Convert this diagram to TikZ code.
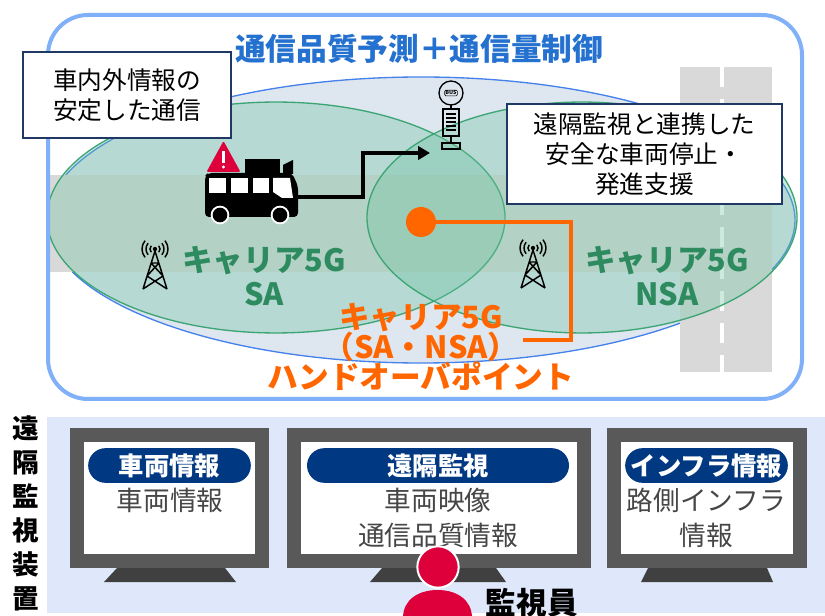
\documentclass[tikz,border=0pt]{standalone}
\usepackage{fontspec}
\setmainfont{Noto Sans CJK JP}
\usetikzlibrary{arrows.meta}

\definecolor{frameblue}{RGB}{128,176,248}
\definecolor{titleblue}{RGB}{36,113,207}
\definecolor{covfill}{RGB}{222,230,240}
\definecolor{covline}{RGB}{70,130,235}
\definecolor{roadgray}{RGB}{217,217,217}
\definecolor{cellline}{RGB}{60,165,115}
\definecolor{cellfill}{RGB}{110,195,160}
\definecolor{cellgreen}{RGB}{46,139,96}
\definecolor{hoorange}{RGB}{255,102,0}
\definecolor{boxnavy}{RGB}{31,56,100}
\definecolor{panelblue}{RGB}{223,232,251}
\definecolor{monframe}{RGB}{89,89,89}
\definecolor{monstand}{RGB}{64,64,64}
\definecolor{pillnavy}{RGB}{0,56,130}
\definecolor{bodygray}{RGB}{70,70,70}
\definecolor{alertred}{RGB}{222,0,58}

\tikzset{
  infobox/.style={draw=boxnavy, line width=1.8pt, fill=white, inner sep=0pt,
    align=center, font=\fontsize{18.5}{22.5}\selectfont},
  celltext/.style={text=cellgreen, align=center, font=\bfseries\fontsize{23}{26}\selectfont},
  hotext/.style={text=hoorange, align=center, font=\bfseries\fontsize{23}{22.5}\selectfont},
  pill/.style={fill=pillnavy, rounded corners=13pt, minimum height=26pt, inner sep=0pt,
    text=white, font=\bfseries\fontsize{19}{22}\selectfont},
  montext/.style={text=bodygray, align=center, font=\fontsize{20}{26.25}\selectfont},
  screen/.style={fill=white},
  tower/.pic={
    \draw[line width=1.1pt, line join=round]
      (-12,38) -- (0,0) -- (12,38)
      (-4,12) -- (4,12)
      (-4,12) -- (8,25) (4,12) -- (-8,25)
      (-8,25) -- (12,38) (8,25) -- (-12,38);
    \fill (0,-2) circle (1.6pt);
    \foreach \r in {5,9,13} {
      \draw[line width=1.1pt] (0,-2) ++(-40:\r*0.75pt) arc (-40:40:\r*0.75pt);
      \draw[line width=1.1pt] (0,-2) ++(140:\r*0.75pt) arc (140:220:\r*0.75pt);
    }
  }
}

\begin{document}
\begin{tikzpicture}[x=0.75pt, y=-0.75pt]
\useasboundingbox (0,0) rectangle (825,616);

% service area frame
\fill[white] (0,0) rectangle (825,616);
\fill[white, rounded corners=30pt] (48,15) rectangle (802,399);

\begin{scope}
  \clip[rounded corners=30pt] (48,15) rectangle (802,399);
  % overall coverage
  \filldraw[fill=covfill, draw=covline, line width=1pt]
    (421,220) ellipse [x radius=280.5pt, y radius=107.25pt];
  % roads
  \fill[roadgray] (48,175) rectangle (772,272);
  \fill[roadgray] (680,67) rectangle (772,372);
  \draw[white, line width=3pt, dash pattern=on 15pt off 9pt] (722,67) -- (722,372);
  % carrier cells
  \filldraw[fill=cellfill, fill opacity=0.35, draw=cellline, line width=1pt]
    (276,217.5) ellipse [x radius=171.75pt, y radius=86.6pt];
  \filldraw[fill=cellfill, fill opacity=0.35, draw=cellline, line width=1pt]
    (582,217.5) ellipse [x radius=161.25pt, y radius=86.6pt];
\end{scope}
\draw[frameblue, line width=3pt, rounded corners=30pt] (48,15) rectangle (802,399);

\node[text=titleblue, font=\bfseries\fontsize{23}{26}\selectfont] (title) at (419,49)
  {通信品質予測＋通信量制御};

% base stations
\pic at (155,251) {tower};
\pic at (533,250) {tower};

\node[celltext] (saText) at (264,276) {キャリア5G\\SA};
\node[celltext] (nsaText) at (667,276) {キャリア5G\\NSA};

% bus
\fill[black, rounded corners=3pt] (205,176) -- (205,217) -- (298,217) -- (298,186) -- (292,173) -- (208,173) -- cycle;
\fill[black] (245,159) rectangle (280,174);
\fill[black] (283,165) -- (293,160) -- (293,174) -- (283,174) -- cycle;
\fill[white] (209,178) rectangle (226,193);
\fill[white] (231,178) rectangle (248,193);
\fill[white] (253,178) rectangle (269,193);
\fill[white] (273,178) -- (290,178) -- (293,198) -- (282,198) -- (273,192) -- cycle;
\foreach \wx in {220,280} {
  \fill[white] (\wx,215) circle (7pt);
  \fill[black] (\wx,215) circle (5.5pt);
}
\fill[alertred, rounded corners=1pt] (223.5,141) -- (240.5,172) -- (206.5,172) -- cycle;
\fill[white] (222.3,151) rectangle (224.7,163);
\fill[white] (223.5,167) circle (1.2pt);
\coordinate (bus) at (298,197);

% bus stop
\draw[line width=1pt] (451,93) circle (9pt);
\node[font=\bfseries\fontsize{4}{4}\selectfont, inner sep=0.6pt, draw, rounded corners=1pt] (busSign) at (451,93) {BUS};
\draw[line width=1pt] (451,105) -- (451,109) (451,136) -- (451,143);
\draw[line width=1pt] (443,109) rectangle (459,136);
\foreach \ly in {114,118,122,126,130} \draw[line width=1pt] (446,\ly) -- (456,\ly);
\draw[line width=1pt] (442,143) rectangle (460,149);
\coordinate (stop) at (430,153);

\draw[line width=2.3pt, -{Triangle[length=9pt,width=10pt]}] (bus) -- (363,197) |- (stop);

% handover point
\node[circle, fill=hoorange, minimum size=22.5pt, inner sep=0pt] (ho) at (421,222) {};
\coordinate (hoEnd) at (523,340);
\draw[hoorange, line width=3pt] (ho.center) -| (571,340) -- (hoEnd);
\node[hotext] (hoText) at (421,347) {キャリア5G\\（SA・NSA）\\ハンドオーバポイント};

% callouts
\node[infobox, minimum width=156pt, minimum height=64.5pt] (callA) at (127,95)
  {車内外情報の\\安定した通信};
\node[infobox, minimum width=206pt, minimum height=75pt] (callB) at (644.5,154)
  {遠隔監視と連携した\\安全な車両停止・\\発進支援};

% remote monitoring panel
\fill[panelblue] (47,417) rectangle (825,613);
\node[align=center, font=\bfseries\fontsize{20}{25.5}\selectfont] (panelLabel) at (26,513)
  {遠\\隔\\監\\視\\装\\置};

% monitors
\foreach \xa/\xb/\sa/\sb/\ba/\bb in {70/269/117/225/104/236, 287/591/382/496/370/506, 607/807/648/767/641/773} {
  \fill[monstand] (\sa,568) -- (\sb,568) -- (\bb,582) -- (\ba,582) -- cycle;
  \fill[monframe] (\xa,428) rectangle (\xb,568);
  \fill[screen] (\xa+14,442) rectangle (\xb-14,554);
}
\node[pill, minimum width=122pt] (pillA) at (169.5,465.5) {車両情報};
\node[pill, minimum width=196.5pt] (pillB) at (438,465.5) {遠隔監視};
\node[pill, minimum width=122pt] (pillC) at (706.5,465.5) {インフラ情報};

\node[montext] (infoA) at (170,500) {車両情報};
\node[montext] (infoB) at (438,517.5) {車両映像\\通信品質情報};
\node[montext] (infoC) at (706.5,517.5) {路側インフラ\\情報};

% operator
\fill[alertred] (403,630) -- (403,618) .. controls (403,600) and (418,590) .. (437.5,590)
  .. controls (457,590) and (472,600) .. (472,618) -- (472,630) -- cycle;
\filldraw[fill=alertred, draw=white, line width=1.5pt] (438,567) circle (15.5pt);
\node[font=\bfseries\fontsize{23}{26}\selectfont, anchor=west] (operator) at (481,603) {監視員};
\end{tikzpicture}
\end{document}
